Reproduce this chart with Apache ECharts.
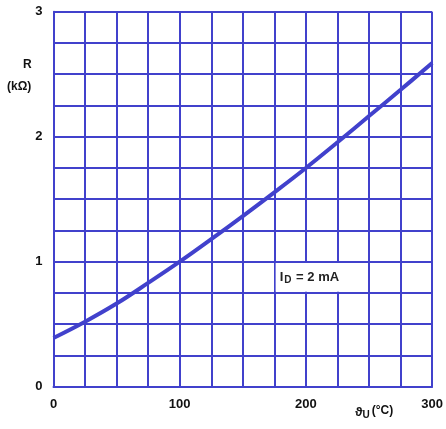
<!DOCTYPE html>
<html>
<head>
<meta charset="utf-8">
<script src="https://cdn.jsdelivr.net/npm/echarts@6/dist/echarts.min.js"></script>
<style>
  html, body { margin: 0; padding: 0; background: #ffffff; }
  #chart { width: 446px; height: 429px; }
</style>
</head>
<body>
<div id="chart"></div>
<script>
// Temperature (°C) at which the resistance was sampled
const temperatures = [0, 25, 50, 75, 100, 125, 150, 175, 200, 225, 250, 275, 300];
// Sensor resistance R in kΩ at I_D = 2 mA
const resistance = [0.39, 0.52, 0.665, 0.83, 1.00, 1.18, 1.365, 1.555, 1.75, 1.955, 2.165, 2.375, 2.59];
// Labelled ticks on each axis
const xTicks = [0, 100, 200, 300];
const yTicks = [0, 1, 2, 3];
// Cell that carries the measurement-condition note
const noteCell = [[175, 0.75], [250, 1.0]];

const BLUE = '#4141cc';
const FONT = '"Liberation Sans", Arial, sans-serif';

const chart = echarts.init(document.getElementById('chart'), null, { renderer: 'canvas' });

const gridLine = { show: true, lineStyle: { color: BLUE, width: 2, type: 'solid' } };

chart.setOption({
  backgroundColor: '#ffffff',
  animation: false,
  grid: { left: 53.5, right: 13.5, top: 11.7, bottom: 42.3, containLabel: false },
  xAxis: {
    type: 'value',
    min: xTicks[0],
    max: xTicks[xTicks.length - 1],
    interval: xTicks[1] - xTicks[0],
    axisLine: { show: true, lineStyle: { color: BLUE, width: 2 } },
    axisTick: { show: false },
    minorTick: { show: false, splitNumber: 4 },
    splitLine: gridLine,
    minorSplitLine: gridLine,
    axisLabel: {
      margin: 11,
      color: '#111',
      fontFamily: FONT,
      fontWeight: 'bold',
      fontSize: 13
    }
  },
  yAxis: {
    type: 'value',
    min: yTicks[0],
    max: yTicks[yTicks.length - 1],
    interval: yTicks[1] - yTicks[0],
    axisLine: { show: true, lineStyle: { color: BLUE, width: 2 } },
    axisTick: { show: false },
    minorTick: { show: false, splitNumber: 4 },
    splitLine: gridLine,
    minorSplitLine: gridLine,
    axisLabel: {
      margin: 11,
      color: '#111',
      fontFamily: FONT,
      fontWeight: 'bold',
      fontSize: 13
    }
  },
  series: [{
    type: 'line',
    data: temperatures.map((t, i) => [t, resistance[i]]),
    smooth: 0.4,
    showSymbol: false,
    lineStyle: { color: BLUE, width: 4 },
    z: 3,
    markArea: {
      silent: true,
      itemStyle: { color: '#ffffff', borderWidth: 0 },
      label: {
        show: true,
        position: 'insideLeft',
        distance: 4,
        formatter: '{i|I}{d|D}{t| = 2 mA}',
        rich: {
          i: { fontFamily: FONT, fontSize: 13, fontWeight: 'bold', color: '#222' },
          d: { fontFamily: FONT, fontSize: 10, fontWeight: 'bold', color: '#222', verticalAlign: 'bottom', padding: [6, 1, 0, 1] },
          t: { fontFamily: FONT, fontSize: 13, fontWeight: 'bold', color: '#222' }
        }
      },
      data: [[
        { coord: [noteCell[0][0] + 1, noteCell[0][1] + 0.01] },
        { coord: [noteCell[1][0] - 1, noteCell[1][1] - 0.01] }
      ]]
    }
  }],
  graphic: [
    {
      type: 'text',
      left: 23, top: 59,
      style: { text: 'R', fontFamily: FONT, fontWeight: 'bold', fontSize: 12, fill: '#111' }
    },
    {
      type: 'text',
      left: 7, top: 81,
      style: { text: '(kΩ)', fontFamily: FONT, fontWeight: 'bold', fontSize: 12, fill: '#111' }
    },
    {
      type: 'text',
      left: 355, top: 405,
      style: {
        text: '{v|ϑ}{u|U}{c|(°C)}',
        rich: {
          v: { fontFamily: FONT, fontWeight: 'bold', fontSize: 13, fill: '#111', padding: [3, 0, 0, 0] },
          u: { fontFamily: FONT, fontWeight: 'bold', fontSize: 10, fill: '#111', padding: [9, 2, 0, 0] },
          c: { fontFamily: FONT, fontWeight: 'bold', fontSize: 12, fill: '#111' }
        }
      }
    }
  ]
});
</script>
</body>
</html>
